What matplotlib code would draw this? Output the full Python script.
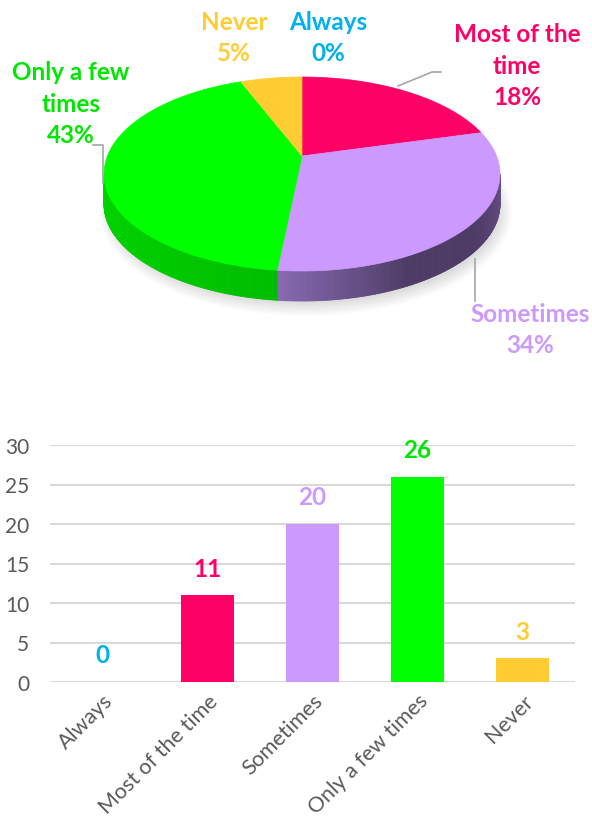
import numpy as np
import matplotlib
matplotlib.use("Agg")
import matplotlib.pyplot as plt
from matplotlib.patches import Polygon, Ellipse
from matplotlib.colors import to_rgb

plt.rcParams['font.family'] = ['Lato', 'DejaVu Sans']

categories = ["Always", "Most of the time", "Sometimes", "Only a few times", "Never"]
counts = [0, 11, 20, 26, 3]
percents = [0, 18, 34, 43, 5]
colors = ["#00B0F0", "#FF0066", "#CC99FF", "#00FF00", "#FFCC33"]
side_colors = [None, "#B00048", "#6E5590", "#00C800", "#D9A820"]
label_colors = ["#00B0F0", "#FF0066", "#CC99FF", "#00E600", "#FFCC33"]

W, H = 592, 828
fig = plt.figure(figsize=(W / 100, H / 100), dpi=100)

# ---- 3D pie drawn in pixel coordinates ----
ax = fig.add_axes([0, 0, 1, 1])
ax.set_xlim(0, W)
ax.set_ylim(H, 0)
ax.axis("off")

cx, cy, a, b, depth = 302, 175, 198, 97, 30
apex = (cx, cy - 18)


def rim(theta_deg):
    t = np.radians(theta_deg)
    return cx + a * np.cos(t), cy - b * np.sin(t)


# soft shadow under the pie
for i in range(12):
    ax.add_patch(Ellipse((cx + 4, cy + depth + 8), 2 * a + 16 - i * 2.5, 2 * b + 14 - i * 2.5,
                         color="#000000", alpha=0.012, lw=0, zorder=0))

# wedge angle ranges (clockwise from 12 o'clock)
starts = 90 - 3.6 * np.concatenate([[0], np.cumsum(percents)[:-1]])
ends = starts - 3.6 * np.array(percents)


def shade(base, k):
    r, g, bb = to_rgb(base)
    k = min(k, 1.0 / max(r, g, bb, 1e-6))
    return (r * k, g * k, bb * k)


# side walls (front half only)
for i, (s, e) in enumerate(zip(starts, ends)):
    if percents[i] == 0:
        continue
    th = np.linspace(s, e, 200)
    for t0, t1 in zip(th[:-1], th[1:]):
        tn = ((t0 + t1) / 2) % 360
        if not (180 <= tn <= 360):
            continue
        x0, y0 = rim(t0)
        x1, y1 = rim(t1)
        frac = (tn - 180) / 180.0
        if i == 2:
            k = 1.25 - 0.55 * min(1.0, max(0.0, (tn - 262) / 40)) + 0.25 * max(0.0, (tn - 330) / 30)
        else:
            k = 1.05 - 0.35 * frac ** 1.5
        col = shade(side_colors[i], k)
        ax.add_patch(Polygon([(x0, y0), (x1, y1), (x1, y1 + depth), (x0, y0 + depth)],
                             closed=True, facecolor=col, edgecolor=col, lw=0.6, zorder=2))

# top faces
for i, (s, e) in enumerate(zip(starts, ends)):
    if percents[i] == 0:
        continue
    th = np.linspace(s, e, 120)
    pts = [apex] + [rim(t) for t in th]
    ax.add_patch(Polygon(pts, closed=True, facecolor=colors[i], edgecolor=colors[i],
                         lw=0.5, zorder=3))

# pie labels
lab_font = dict(fontsize=17.5, fontweight="bold", ha="center", va="center", linespacing=1.45)
ax.text(234, 38, f"Never\n{percents[4]}%", color=label_colors[4], **lab_font)
ax.text(328, 38, f"Always\n{percents[0]}%", color=label_colors[0], **lab_font)
ax.text(517, 66, f"Most of the\ntime\n{percents[1]}%", color=label_colors[1], **lab_font)
ax.text(71, 104, f"Only a few\ntimes\n{percents[3]}%", color=label_colors[3], **lab_font)
ax.text(530, 330, f"Sometimes\n{percents[2]}%", color=label_colors[2], **lab_font)

# leader lines
lc = "#A6A6A6"
ax.plot([398, 432, 441], [87, 73, 73], color=lc, lw=1.2, zorder=4)
ax.plot([93, 103, 103], [146, 146, 184], color=lc, lw=1.2, zorder=4)
ax.plot([475, 475], [260, 302], color=lc, lw=1.2, zorder=4)

# ---- bar chart ----
bx = fig.add_axes([50 / W, (H - 683) / H, 525 / W, 237 / H])
x = np.arange(len(categories))
bx.bar(x, counts, width=0.5, color=colors, zorder=3)
bx.set_xlim(-0.5, len(categories) - 0.5)
bx.set_ylim(0, 30)
bx.set_yticks(range(0, 31, 5))
bx.grid(axis="y", color="#D9D9D9", lw=1.5, zorder=0)
for sp in bx.spines.values():
    sp.set_visible(False)
bx.tick_params(axis="both", length=0, colors="#595959", labelsize=15)
bx.tick_params(axis="y", pad=15)
bx.set_xticks(x)
bx.set_xticklabels(categories, rotation=45, ha="right", rotation_mode="anchor", fontsize=15.5)
bx.tick_params(axis="x", pad=6)
for xi, v, c in zip(x, counts, label_colors):
    bx.annotate(str(v), (xi, v), xytext=(0, 19.5), textcoords="offset points",
                ha="center", va="center", color=c, fontsize=17.5, fontweight="bold")

fig.savefig("out.png", dpi=100)
